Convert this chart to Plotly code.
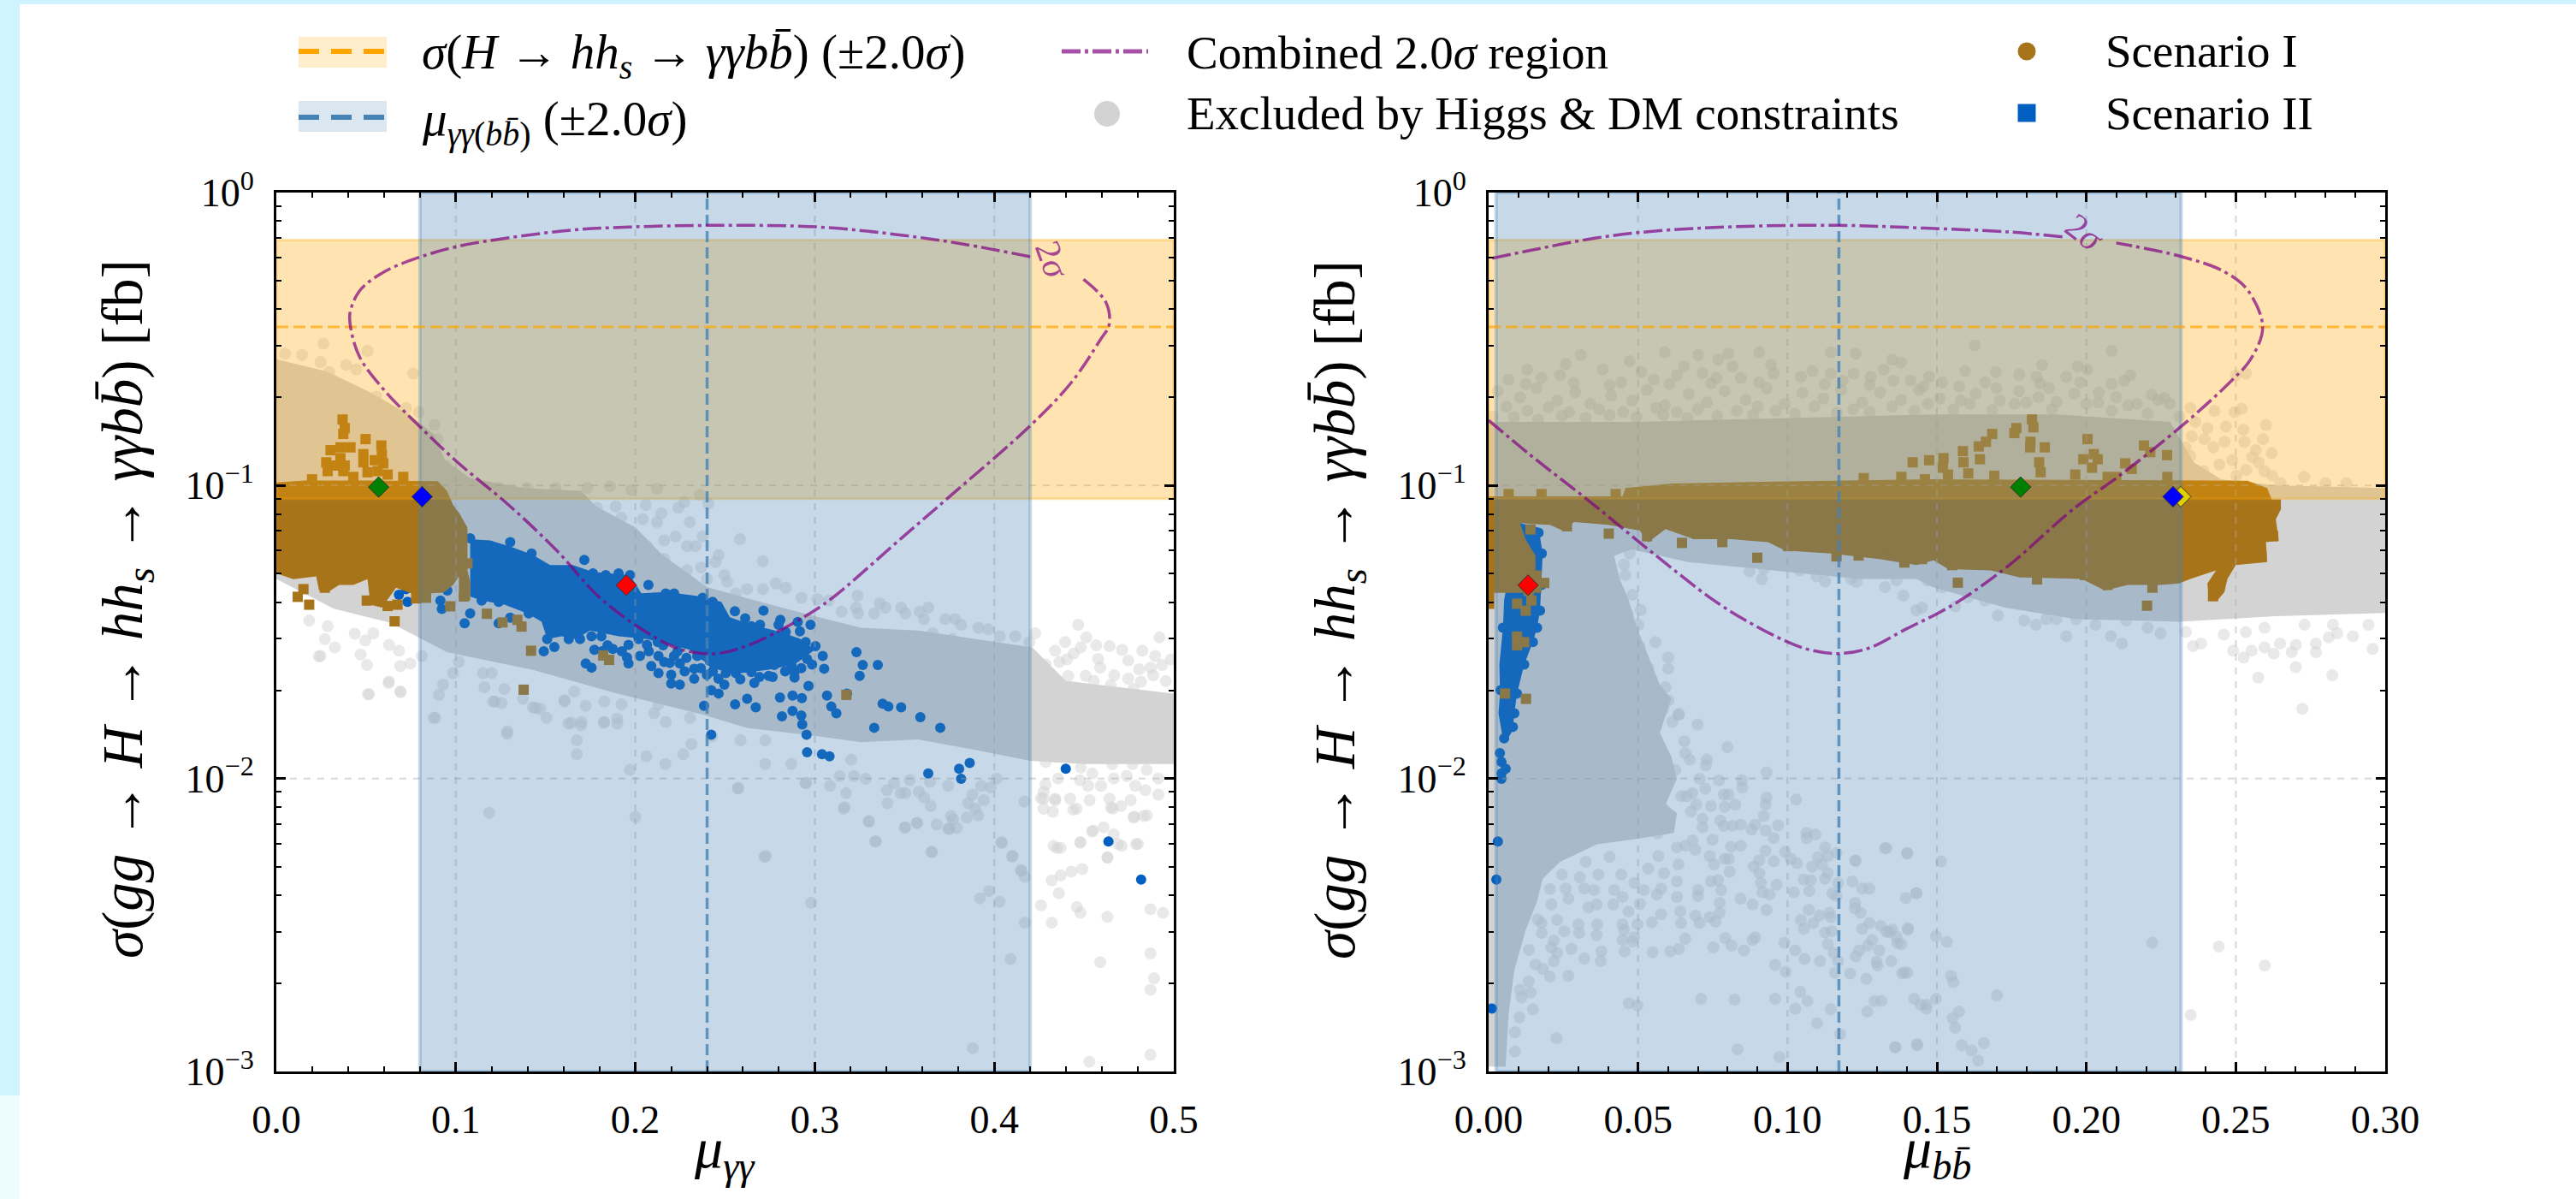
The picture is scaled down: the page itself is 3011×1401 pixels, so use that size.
import plotly.graph_objects as go

W, H = 3011, 1401
X_TICKS_L = [0.0, 0.1, 0.2, 0.3, 0.4, 0.5]
X_TICKS_R = [0.0, 0.05, 0.10, 0.15, 0.20, 0.25, 0.30]
X_MINOR_L = [0.02, 0.04, 0.06, 0.08, 0.12, 0.14, 0.16, 0.18, 0.22, 0.24, 0.26, 0.28, 0.32, 0.34, 0.36, 0.38, 0.42, 0.44, 0.46, 0.48]
X_MINOR_R = [0.01, 0.02, 0.03, 0.04, 0.06, 0.07, 0.08, 0.09, 0.11, 0.12, 0.13, 0.14, 0.16, 0.17, 0.18, 0.19, 0.21, 0.22, 0.23, 0.24, 0.26, 0.27, 0.28, 0.29]
Y_TICKS = [0.001, 0.01, 0.1, 1]
Y_LABELS = ["10<sup>−3</sup>", "10<sup>−2</sup>", "10<sup>−1</sup>", "10<sup>0</sup>"]
Y_MINOR = [0.002, 0.003, 0.004, 0.005, 0.006, 0.007, 0.008, 0.009, 0.02, 0.03, 0.04, 0.05, 0.06, 0.07, 0.08, 0.09, 0.2, 0.3, 0.4, 0.5, 0.6, 0.7, 0.8, 0.9]

SIGMA_LOW, SIGMA_MID, SIGMA_HIGH = 0.0902, 0.348, 0.689
MU_AA_LOW, MU_AA_MID, MU_AA_HIGH = 0.08, 0.24, 0.42
MU_BB_LOW, MU_BB_MID, MU_BB_HIGH = 0.0025, 0.1172, 0.2317

contour_left = [(0.42,0.604),(0.384,0.665),(0.348,0.716),(0.302,0.763),(0.247,0.773),(0.197,0.763),(0.165,0.745),(0.129,0.70),(0.101,0.655),(0.0785,0.598),(0.06,0.536),(0.0465,0.463),(0.041,0.387),(0.0415,0.343),(0.0465,0.274),(0.06,0.212),(0.0785,0.162),(0.101,0.12),(0.129,0.0863),(0.156,0.0602),(0.181,0.041),(0.211,0.0303),(0.227,0.0274),(0.245,0.0267),(0.263,0.0285),(0.293,0.0353),(0.309,0.041),(0.348,0.0659),(0.375,0.0916),(0.42,0.16),(0.443,0.225),(0.459,0.314),(0.464,0.354),(0.462,0.424),(0.448,0.515)]
contour_right_a = [(0.192,0.706),(0.174,0.734),(0.146,0.756),(0.117,0.773),(0.083,0.765),(0.055,0.738),(0.036,0.70),(0.014,0.635),(0.0,0.593)]
contour_right_b = [(0.0,0.167),(0.014,0.127),(0.0334,0.0889),(0.0554,0.0583),(0.0747,0.041),(0.0859,0.0347),(0.0999,0.0293),(0.108,0.0274),(0.117,0.0267),(0.127,0.0278),(0.14,0.0325),(0.15,0.0365),(0.159,0.0413),(0.174,0.0533),(0.196,0.0837),(0.21,0.106),(0.232,0.16),(0.248,0.225),(0.255,0.27),(0.259,0.348),(0.254,0.464),(0.246,0.538),(0.232,0.604),(0.21,0.673)]

grey_core_left = [(0,0.27),(0.028,0.245),(0.051,0.21),(0.074,0.175),(0.0876,0.15),(0.094,0.122),(0.108,0.106),(0.138,0.098),(0.17,0.096),(0.178,0.085),(0.2,0.072),(0.215,0.058),(0.24,0.045),(0.27,0.040),(0.3,0.0358),(0.3258,0.0327),(0.3576,0.032),(0.3894,0.0299),(0.4212,0.028),(0.44,0.0215),(0.5,0.0195),(0.5,0.0112),(0.45,0.0112),(0.42,0.0115),(0.39,0.0125),(0.3576,0.0136),(0.3258,0.0133),(0.2999,0.014),(0.262,0.0149),(0.238,0.0165),(0.19,0.0195),(0.143,0.0235),(0.095,0.027),(0.0636,0.034),(0.032,0.038),(0,0.048)]

grey_left = [(0.1186,0.00764),(0.2,0.0074),(0.272,0.0054),(0.298,0.00377),(0.334,0.0061),(0.365,0.00562),(0.33,0.00716),(0.316,0.0079),(0.35,0.0068),(0.357,0.00705),(0.377,0.00726),(0.375,0.00673),(0.391,0.00748),(0.404,0.00607),(0.41,0.00542),(0.415,0.00484),(0.417,0.00462),(0.392,0.0039),(0.397,0.00413),(0.403,0.0038),(0.417,0.00322),(0.409,0.00242),(0.388,0.0012),(0.453,0.00108),(0.487,0.00114),(0.489,0.00208),(0.487,0.0019),(0.487,0.00253),(0.459,0.00236),(0.432,0.00322),(0.426,0.00369),(0.436,0.00406),(0.446,0.00364),(0.448,0.00348),(0.463,0.00337),(0.487,0.00358),(0.494,0.00348),(0.432,0.00449),(0.437,0.00467),(0.443,0.00481),(0.449,0.00491),(0.463,0.00537),(0.435,0.00579),(0.448,0.00607),(0.455,0.00664),(0.469,0.00597),(0.479,0.00597),(0.478,0.00741),(0.485,0.00748),(0.466,0.0079),(0.444,0.00783),(0.434,0.00843),(0.426,0.00857),
(0.2583,0.0656),(0.271,0.0552),(0.2572,0.00927),(0.2727,0.00544),(0.3336,0.0061),(0.3653,0.00561),(0.3302,0.00713),(0.3505,0.00681),(0.3569,0.00705),(0.3679,0.00696),(0.3743,0.00674),(0.3759,0.00745),(0.3791,0.00678),(0.3847,0.00736),(0.3894,0.00789),(0.3854,0.00824),(0.3942,0.00843),(0.3646,0.00805),(0.361,0.00861),(0.358,0.00901),(0.3405,0.00824),(0.3478,0.00891),(0.3505,0.00891),(0.3402,0.00912),(0.3441,0.00964),(0.3166,0.00798),(0.3174,0.00891),(0.3085,0.00944),(0.2949,0.00964),(0.3218,0.0102),(0.3139,0.0102),(0.3283,0.00998),(0.3529,0.00987),(0.3642,0.00975),(0.3743,0.00944),(0.3878,0.00881),(0.3926,0.00944),(0.398,0.00933),(0.4013,0.00998),(0.4168,0.00834),(0.4041,0.00602),(0.4101,0.00544),(0.4149,0.00486),(0.4275,0.00901),(0.4339,0.00853),(0.4275,0.00853),(0.4422,0.00853),(0.4531,0.00843),(0.4275,0.00788),(0.4326,0.0077),(0.4458,0.00788),(0.4642,0.00853),(0.465,0.00796),(0.4706,0.00805),(0.476,0.00843),(0.4776,0.00736),(0.4832,0.00745),(0.4545,0.00659),(0.4609,0.00681),(0.4665,0.00644),(0.4479,0.00603),(0.433,0.00589),(0.437,0.0058),(0.471,0.00589),(0.48,0.00598),(0.4631,0.00538),
(0.4467,0.0335),(0.4395,0.0292),(0.4513,0.0303),(0.4339,0.0273),(0.4442,0.0267),(0.4482,0.028),(0.4578,0.0256),(0.4642,0.0283),(0.4746,0.0253),(0.4825,0.0273),(0.4896,0.0262),(0.492,0.0303),(0.4807,0.0236),(0.4871,0.0239),(0.4935,0.0244),(0.4746,0.0219),(0.4817,0.0214),(0.451,0.0224),(0.459,0.0239),(0.4412,0.0224),(0.4363,0.025),(0.4323,0.0219),(0.4363,0.0187),(0.425,0.0219),(0.4259,0.0191),(0.4506,0.0187),(0.4626,0.0195),(0.4738,0.0183),(0.4849,0.0187),(0.492,0.0183),(0.4286,0.0114),(0.4339,0.0119),(0.4482,0.0109),(0.4546,0.0104),(0.4477,0.00986),(0.4355,0.01),(0.4285,0.00954),(0.4594,0.00944),(0.4523,0.00944),(0.4666,0.01),(0.4738,0.0102),(0.4786,0.00944),(0.4842,0.00912),(0.4914,0.00881),(0.4849,0.0107),(0.4658,0.0112),(0.477,0.0112),(0.4914,0.01),
(0.4286,0.0245),(0.4555,0.0215),(0.4668,0.0225),(0.4775,0.0202),(0.4955,0.0215),(0.4985,0.0255),(0.4712,0.0275),(0.4568,0.0285),(0.4405,0.0255),(0.4305,0.0205),(0.4885,0.0225),(0.4648,0.0208),(0.4445,0.0205),(0.4222,0.0255),(0.4135,0.0265),
(0.2782,0.0463),(0.2838,0.0448),(0.2926,0.0414),(0.3014,0.0409),(0.3077,0.0405),(0.3149,0.0371),(0.3238,0.0421),(0.323,0.0383),(0.3242,0.0366),(0.3331,0.0366),(0.3362,0.0396),(0.3394,0.0383),(0.3481,0.0383),(0.3505,0.0366),(0.3584,0.0371),(0.3632,0.0383),(0.3608,0.035),(0.3657,0.0313),(0.3727,0.035),(0.3783,0.035),(0.3815,0.0335),(0.3911,0.0327),(0.3966,0.0323),(0.403,0.0306),(0.4117,0.0306),(0.4228,0.0313),(0.4196,0.0292),(0.3767,0.0299),(0.2464,0.0579),(0.2496,0.0495),(0.2512,0.0469),(0.2623,0.0443),(0.2711,0.0443),(0.256,0.0429),
(0.0262,0.305),(0.0508,0.288),(0.0763,0.241),(0.0048,0.282),(0.0143,0.279),(0.0246,0.264),(0.0389,0.258),(0.0445,0.249),(0.0294,0.244),(0.0556,0.201),(0.0723,0.184),(0.0794,0.178),(0.0882,0.161),(0.0898,0.144),(0.0945,0.117),(0.1017,0.102),(0.1239,0.0982),(0.1398,0.0982),(0.1557,0.0982),(0.1732,0.0982),(0.1859,0.0993),(0.1978,0.0964),(0.2121,0.0975),(0.2359,0.0929),(0.2272,0.0877),(0.2058,0.0859),(0.2145,0.0804),(0.224,0.084),(0.2304,0.075),(0.2407,0.0869),(0.2121,0.075),(0.2042,0.0767),(0.1922,0.0777),(0.1787,0.084),(0.1708,0.0869),(0.1891,0.0849),(0.1748,0.0735),(0.1732,0.0785),(0.1795,0.0758),(0.1859,0.0702),(0.1938,0.0671),(0.2002,0.0656),(0.2224,0.0671),(0.2065,0.0621),(0.2161,0.0649),(0.2288,0.0621),(0.2336,0.0621),(0.2375,0.0671),(0.2161,0.0561),(0.2113,0.0548),(0.205,0.0568),(0.2367,0.0525),(0.2447,0.0548),(0.2288,0.0513),(0.2399,0.0479),(0.1875,0.0671),(0.1795,0.0671),(0.1716,0.0718),
(0.0246,0.0262),(0.0326,0.028),(0.027,0.0299),(0.0469,0.0265),(0.0505,0.0244),(0.0628,0.0214),(0.0691,0.0198),(0.0516,0.0194),(0.0691,0.0242),(0.0747,0.0247),(0.0683,0.0273),(0.0628,0.0286),(0.0496,0.0296),(0.0437,0.0312),(0.0183,0.0346),(0.0286,0.0331),(0.054,0.0313),(0.081,0.0262),(0.0929,0.0209),(0.0906,0.0193),(0.0885,0.0161),(0.116,0.0205),(0.1208,0.0183),(0.1255,0.0181),(0.1271,0.0202),(0.1374,0.0187),(0.143,0.0175),(0.147,0.0173),(0.1506,0.0161),(0.1287,0.0145),(0.1605,0.0185),(0.166,0.0198),(0.1724,0.0177),(0.17,0.0156),(0.1644,0.0155),(0.1827,0.0156),(0.1899,0.016),(0.1827,0.0183),(0.1923,0.0179),(0.2105,0.0167),(0.2169,0.0156),(0.2304,0.0161),(0.2129,0.0179),(0.2256,0.0187),(0.1152,0.0229),(0.12,0.0229),(0.0985,0.0229),(0.1017,0.025),
(0.0237,0.0261),(0.0511,0.0194),(0.0693,0.0197),(0.0625,0.0212),(0.0876,0.0161),(0.1218,0.0183),(0.1286,0.0142),(0.1446,0.0174),(0.1606,0.0183),(0.1628,0.0154),(0.1697,0.0152),(0.1674,0.0135),(0.1674,0.0121),(0.1825,0.0155),(0.19,0.0154),(0.197,0.0107),(0.2062,0.0119),(0.2167,0.0112),(0.2267,0.0121),(0.2313,0.0131),(0.2427,0.0139),(0.2573,0.00925),(0.2587,0.0135),(0.2724,0.0135),(0.2724,0.0112),(0.2869,0.0112),(0.2951,0.00966),(0.3203,0.0116)]

blue_core_left = [(0.108,0.0656),(0.1192,0.0649),(0.1319,0.0614),(0.143,0.0579),(0.1525,0.0535),(0.1652,0.0535),(0.1764,0.0507),(0.197,0.0495),(0.2034,0.0429),(0.2177,0.0433),(0.2367,0.0418),(0.2479,0.0401),(0.2527,0.0355),(0.2647,0.0335),(0.2798,0.0318),(0.2917,0.03),(0.3,0.0275),(0.2887,0.0245),(0.2737,0.0235),(0.256,0.0228),(0.2464,0.0235),(0.2367,0.0255),(0.2304,0.0275),(0.2065,0.0299),(0.1907,0.0306),(0.1748,0.032),(0.1668,0.0299),(0.1589,0.0306),(0.1509,0.0299),(0.1478,0.0343),(0.1398,0.0366),(0.1271,0.0392),(0.1144,0.0405),(0.108,0.0418)]

blue_left = [(0.108,0.066),(0.1303,0.0641),(0.1422,0.0586),(0.1716,0.0557),(0.1764,0.0501),(0.1835,0.0495),(0.1907,0.0501),(0.197,0.0495),(0.2073,0.0458),(0.1859,0.0463),(0.2216,0.0428),(0.2375,0.0414),(0.2431,0.0401),(0.2336,0.0396),(0.2169,0.0428),
(0.0723,0.0443),(0.0802,0.0453),(0.0683,0.0424),(0.0731,0.0401),(0.0914,0.0405),(0.0922,0.0379),(0.0953,0.0438),(0.1049,0.0339),(0.108,0.0366),(0.1144,0.0405),(0.1239,0.0401),(0.1406,0.0366),(0.1239,0.0339),(0.1303,0.0354),
(0.1509,0.0299),(0.1549,0.0281),(0.149,0.0272),(0.1629,0.0299),(0.1692,0.0299),(0.1756,0.0306),(0.1811,0.0306),(0.1772,0.0275),(0.1724,0.0247),(0.1756,0.0239),(0.1875,0.0277),(0.1962,0.0286),(0.1954,0.0259),(0.1962,0.0247),(0.2026,0.0262),(0.2018,0.0299),(0.2065,0.0286),(0.2129,0.0262),(0.2216,0.0262),(0.2161,0.025),(0.2089,0.0242),(0.2129,0.0229),(0.2248,0.0247),(0.22,0.0226),(0.22,0.0211),(0.2248,0.0209),(0.2328,0.0237),(0.2328,0.0219),(0.2399,0.0226),(0.2423,0.02),(0.2383,0.0177),(0.2423,0.0141),(0.2463,0.0219),(0.2439,0.0245),
(0.2714,0.0374),(0.2647,0.0331),(0.2695,0.0335),(0.2798,0.0335),(0.2976,0.0335),(0.2917,0.0318),(0.2838,0.0316),(0.2751,0.0306),(0.2663,0.0299),(0.2791,0.0296),(0.2885,0.0289),(0.2949,0.0292),(0.3004,0.0283),(0.2846,0.0273),(0.2727,0.028),(0.2663,0.0273),(0.256,0.028),(0.2496,0.032),(0.2544,0.0306),(0.2464,0.0383),(0.3044,0.0262),(0.2957,0.0256),(0.3052,0.0237),(0.2791,0.0262),(0.2737,0.025),(0.2663,0.025),(0.2623,0.0239),(0.2774,0.0244),(0.271,0.0247),(0.2871,0.0242),(0.2887,0.0231),(0.2887,0.0221),(0.2743,0.0224),(0.2647,0.0231),(0.256,0.0229),(0.2504,0.0229),(0.2496,0.0209),(0.2663,0.0212),(0.2464,0.0195),(0.2965,0.0207),(0.2806,0.0189),(0.2876,0.0192),(0.2928,0.0188),(0.3068,0.0192),(0.2623,0.0187),(0.2556,0.0179),(0.2671,0.0175),(0.2876,0.017),(0.2817,0.0163),(0.2925,0.0164),(0.293,0.0153),(0.2954,0.0141),(0.3092,0.0176),(0.312,0.0167),(0.2957,0.0123),(0.304,0.0121),(0.3082,0.0119),(0.3232,0.027),(0.3267,0.0244),(0.3351,0.0244),(0.325,0.0224),(0.3179,0.0195),(0.3378,0.018),(0.341,0.0176),(0.3481,0.0175),(0.3588,0.0162),(0.3331,0.0149),(0.3699,0.0149),(0.3863,0.0113),(0.3804,0.0108),(0.3632,0.0104),(0.3815,0.00998),(0.4398,0.0108),(0.4636,0.0061),(0.4818,0.00452),
(0.2075,0.0272),(0.2155,0.0285),(0.2235,0.0272),(0.2285,0.0258),(0.2345,0.0262),(0.2415,0.0252),(0.2125,0.0292),(0.2192,0.0248),(0.2275,0.0232),(0.2365,0.0238),(0.2432,0.0232),(0.2535,0.0252),(0.2585,0.0218),(0.2692,0.0222),(0.2765,0.0222),(0.2835,0.0232),(0.2925,0.0238),(0.2985,0.0245),(0.2905,0.0342),(0.2808,0.0348),(0.2612,0.0352),(0.2555,0.0372),(0.2102,0.0308),(0.1845,0.0285),(0.1815,0.0272),(0.1925,0.0272)]

brown_core_left = [(0,0.1025),(0.0159,0.104),(0.05,0.104),(0.07,0.104),(0.09,0.1035),(0.095,0.096),(0.0985,0.0859),(0.102,0.0803),(0.1065,0.0718),(0.1065,0.0513),(0.108,0.0469),(0.108,0.0405),(0.1017,0.0405),(0.1017,0.049),(0.0985,0.0458),(0.0937,0.0433),(0.0858,0.0428),(0.0842,0.04),(0.0763,0.04),(0.0755,0.0428),(0.0667,0.0448),(0.0588,0.0383),(0.0524,0.0392),(0.0508,0.0479),(0.0429,0.0458),(0.035,0.0458),(0.0302,0.0438),(0.0238,0.0438),(0.0222,0.049),(0.0095,0.0479),(0,0.0501)]

brown_left = [(0.0369,0.168),(0.0381,0.157),(0.0373,0.15),(0.0497,0.144),(0.0585,0.137),(0.0357,0.135),(0.0413,0.135),(0.0302,0.132),(0.0588,0.127),(0.0485,0.128),(0.0485,0.12),(0.0548,0.122),(0.0596,0.119),(0.0357,0.124),(0.0278,0.12),(0.0334,0.117),(0.0381,0.117),(0.0286,0.112),(0.0373,0.112),(0.0429,0.107),(0.0199,0.105),(0.0508,0.111),(0.062,0.109),(0.0707,0.107),(0.0564,0.112),
(0.0119,0.0417),(0.0183,0.0392),(0.0151,0.0443),(0.027,0.0448),(0.0659,0.0344),(0.0504,0.0405),(0.062,0.0388),(0.0675,0.0392),(0.0779,0.0412),(0.0834,0.0414),(0.0898,0.0448),(0.0969,0.0387),(0.1045,0.0418),(0.1173,0.0365),(0.126,0.0341),(0.1343,0.0348),(0.1366,0.033),(0.1419,0.0273),(0.1821,0.0263),(0.1854,0.0254),(0.1378,0.0201),(0.3176,0.0193),(0.1065,0.0542),(0.1049,0.0448)]

grey_core_right = [(0,0.165),(0.05,0.165),(0.1,0.17),(0.1489,0.175),(0.19,0.175),(0.228,0.165),(0.236,0.12),(0.245,0.105),(0.2634,0.1),(0.3,0.098),(0.3,0.0367),(0.2634,0.0358),(0.231,0.0343),(0.1966,0.035),(0.1728,0.0383),(0.1489,0.0449),(0.1431,0.048),(0.124,0.048),(0.105,0.0501),(0.0859,0.0525),(0.0668,0.0548),(0.0477,0.0606),(0.042,0.0574),(0.0439,0.048),(0.0468,0.0409),(0.0496,0.0327),(0.0534,0.0262),(0.0573,0.0209),(0.0611,0.0187),(0.0573,0.0143),(0.0611,0.0119),(0.063,0.00998),(0.0592,0.00815),(0.063,0.00762),(0.062,0.00652),(0.0496,0.00622),(0.0363,0.00596),(0.0239,0.0052),(0.0181,0.00455),(0.0162,0.0038),(0.0124,0.00304),(0.0086,0.00222),(0.0067,0.00158),(0.0057,0.00104),(0,0.00104)]

grey_right = [(0.0699,0.0153),(0.0799,0.0128),(0.0637,0.0166),(0.073,0.0116),(0.0727,0.0111),(0.0658,0.0122),(0.0673,0.0116),(0.093,0.0105),(0.0847,0.00986),(0.0849,0.00933),(0.0771,0.00986),(0.0706,0.00998),(0.1029,0.00847),(0.093,0.00861),(0.0927,0.00815),(0.0921,0.00745),(0.0787,0.00881),(0.0802,0.00881),(0.0825,0.00815),(0.0744,0.00805),(0.0725,0.00923),(0.0682,0.00891),(0.0663,0.00871),(0.0695,0.00815),(0.0677,0.00771),(0.079,0.008),(0.0716,0.00728),(0.0716,0.00681),(0.0775,0.00719),(0.0787,0.00689),(0.0816,0.00689),(0.0844,0.00696),(0.0892,0.00696),(0.088,0.0067),(0.0927,0.00665),(0.0969,0.00692),(0.0954,0.00626),(0.0749,0.00618),(0.0692,0.00571),(0.063,0.00582),(0.0658,0.00589),(0.0682,0.00615),(0.0844,0.00589),(0.0811,0.00585),(0.0804,0.00532),(0.0926,0.00566),(0.0992,0.00562),(0.1064,0.00652),(0.1093,0.00644),(0.1064,0.00626),(0.1126,0.00582),(0.1164,0.00557),(0.1331,0.00578),(0.14,0.00557),(0.1228,0.00524),(0.074,0.00544),(0.0754,0.00509),(0.079,0.00532),(0.0635,0.00509),(0.0954,0.00522),(0.0906,0.00526),(0.0887,0.005),(0.1011,0.00532),(0.1032,0.00514),(0.1083,0.005),(0.1102,0.00538),(0.1135,0.00544),(0.1116,0.00509),(0.1135,0.00475),(0.1126,0.00455),(0.1054,0.00452),(0.1078,0.0045),(0.0906,0.00475),(0.0911,0.0044),(0.0964,0.00434),(0.0806,0.00481),(0.0587,0.00475),(0.0534,0.00492),(0.0568,0.00544),(0.0768,0.0045),(0.0744,0.00445),(0.0778,0.00416),(0.0916,0.00409),(0.094,0.00402),(0.1021,0.00409),(0.1073,0.00413),(0.115,0.00406),(0.1169,0.0044),(0.1217,0.00445),(0.125,0.00421),(0.1274,0.00421),(0.1431,0.00406),(0.1396,0.00391),(0.1164,0.00397),(0.0701,0.00416),(0.0701,0.00397),(0.063,0.00394),(0.063,0.00445),(0.0577,0.00421),(0.0563,0.00402),(0.052,0.00416),(0.0487,0.0044),(0.0444,0.0047),(0.0367,0.0047),(0.0305,0.0046),(0.042,0.00416),(0.0448,0.00394),(0.0506,0.00373),(0.0417,0.00372),(0.0468,0.00352),(0.0361,0.00372),(0.0334,0.00363),(0.0267,0.00389),(0.0353,0.00416),(0.032,0.00421),(0.0258,0.00421),(0.021,0.00372),(0.0843,0.00389),(0.0883,0.00372),(0.0773,0.00376),(0.093,0.00356),(0.0641,0.00352),(0.0577,0.00344),(0.0546,0.00323),(0.0498,0.00318),(0.0644,0.00321),(0.0692,0.0034),(0.0706,0.00321),(0.074,0.00336),(0.0759,0.00325),(0.0773,0.00348),(0.1071,0.00356),(0.1045,0.00329),(0.1055,0.00307),(0.1086,0.00321),(0.1107,0.0034),(0.114,0.00348),(0.1145,0.00336),(0.1226,0.00376),(0.1226,0.0036),(0.1245,0.00348),(0.1274,0.00321),(0.125,0.00307),(0.1312,0.00314),(0.1331,0.003),(0.135,0.00305),(0.1403,0.00305),(0.1365,0.00288),(0.1381,0.00272),(0.1283,0.00281),(0.1126,0.00298),(0.1148,0.00301),(0.1135,0.00272),(0.1155,0.00254),(0.1169,0.00238),(0.124,0.00259),(0.1228,0.00247),(0.1269,0.00269),(0.1307,0.00259),(0.1298,0.00237),(0.1301,0.0023),(0.1347,0.00238),(0.1384,0.00216),(0.1401,0.00217),(0.1264,0.00207),(0.121,0.00216),(0.1159,0.00217),(0.1109,0.00238),(0.1057,0.00242),(0.1026,0.00259),(0.099,0.00275),(0.0959,0.00231),(0.0994,0.00219),(0.0854,0.00259),(0.0883,0.00281),(0.0892,0.00287),(0.0792,0.00285),(0.0813,0.00269),(0.0752,0.00265),(0.0658,0.00284),(0.0637,0.00262),(0.0608,0.00257),(0.0549,0.00255),(0.0455,0.00257),(0.0448,0.00281),(0.0487,0.00287),(0.0482,0.00278),(0.0453,0.00304),(0.0448,0.00318),(0.0377,0.00257),(0.0375,0.00238),(0.032,0.00243),(0.0277,0.00262),(0.0229,0.00254),(0.0218,0.00238),(0.021,0.00265),(0.0218,0.0028),(0.0361,0.00292),(0.0363,0.00318),(0.0303,0.00297),(0.0301,0.00318),(0.0253,0.00301),(0.0178,0.00297),(0.0177,0.00321),(0.0229,0.00329),(0.0205,0.00211),(0.0267,0.00212),(0.0181,0.00224),(0.0157,0.00232),(0.0134,0.00203),(0.0141,0.00186),(0.011,0.00179),(0.0148,0.00163),(0.0103,0.00153),(0.0088,0.00136),(0.0227,0.0013),(0.0088,0.00117),(0.0469,0.00171),(0.0498,0.00168),(0.0711,0.00177),(0.0823,0.00176),(0.0959,0.00177),(0.1043,0.00187),(0.1067,0.00174),(0.1026,0.00164),(0.1145,0.00163),(0.1099,0.00146),(0.1176,0.00134),(0.0833,0.00119),(0.0973,0.00112),(0.1362,0.00121),(0.1434,0.00123),(0.1291,0.00174),(0.1314,0.00174),(0.1267,0.0016),(0.1424,0.00177),(0.1446,0.00169),(0.1465,0.00164),
(0.1701,0.00182),(0.1555,0.00202),(0.1547,0.00212),(0.1497,0.00177),(0.1464,0.00169),(0.1574,0.0016),(0.1552,0.00152),(0.1561,0.00141),(0.1434,0.00124),(0.1359,0.00121),(0.1583,0.00123),(0.1657,0.00125),(0.1616,0.00118),(0.1638,0.00109),(0.1497,0.0029),(0.1533,0.00277),(0.139,0.00218),(0.1368,0.00274),(0.134,0.00299),(0.1403,0.00308),(0.1514,0.00521),(0.1431,0.00406),(0.1326,0.00579),(0.1401,0.00555),(0.1227,0.00525),(0.222,0.00275),(0.2443,0.00267),(0.2597,0.0023),(0.2349,0.00156),
(0.2723,0.0173),(0.2575,0.0221),(0.2823,0.0225),(0.2701,0.024),(0.2526,0.0259),(0.2491,0.0273),(0.2553,0.0273),(0.2596,0.028),(0.2627,0.0267),(0.2648,0.0289),(0.2701,0.0286),(0.2687,0.027),(0.2768,0.0289),(0.2768,0.027),(0.2811,0.0303),(0.2839,0.0313),(0.2892,0.0306),(0.2958,0.0277),(0.2944,0.0335),(0.2825,0.0335),(0.273,0.0335),(0.2596,0.0327),(0.2534,0.0316),(0.246,0.031),(0.2357,0.0283),(0.2384,0.0289),(0.2333,0.0316),(0.2248,0.0313),(0.2205,0.0327),(0.2119,0.0289),(0.2082,0.0306),(0.2031,0.0335),(0.1933,0.0306),(0.1831,0.0335),(0.1792,0.0346),(0.1704,0.036),(0.1661,0.0405),(0.1604,0.0415),(0.1561,0.0387),(0.1518,0.0449),(0.1866,0.035),(0.19,0.035),(0.1966,0.035),(0.2133,0.0346),
(0.0472,0.0586),(0.0677,0.0574),(0.0725,0.06),(0.0792,0.0561),(0.0821,0.0574),(0.0873,0.0509),(0.0914,0.0479),(0.0921,0.0519),(0.0973,0.0548),(0.104,0.0513),(0.1097,0.049),(0.1126,0.0471),(0.1212,0.048),(0.1231,0.0469),(0.1293,0.0501),(0.1326,0.045),(0.1388,0.0421),(0.1431,0.0375),(0.145,0.0383),(0.1365,0.0474),(0.1469,0.0474),
(0.0453,0.0538),(0.0458,0.0495),(0.0482,0.0424),(0.0509,0.0376),(0.0501,0.0335),(0.0558,0.0292),(0.0601,0.0259),(0.0601,0.0237),(0.0592,0.0205),(0.0601,0.0185),(0.0635,0.0165),
(0.0308,0.279),(0.0589,0.285),(0.0701,0.279),(0.0768,0.269),(0.0802,0.282),(0.0906,0.285),(0.1145,0.285),(0.1228,0.282),(0.135,0.269),(0.1379,0.263),(0.1322,0.249),(0.1474,0.235),(0.0129,0.249),(0.0258,0.26),(0.0382,0.249),(0.0472,0.266),(0.0654,0.255),(0.063,0.238),(0.0716,0.242),(0.0816,0.255),(0.0945,0.258),(0.1083,0.246),(0.1145,0.241),(0.1221,0.241),(0.1279,0.235),(0.1045,0.235),(0.0067,0.23),(0.0177,0.233),(0.0239,0.238),(0.0444,0.225),(0.0511,0.244),(0.0553,0.23),(0.0763,0.233),(0.0844,0.233),(0.0954,0.241),(0.1355,0.228),(0.1412,0.228),
(0.2085,0.288),(0.1627,0.301),(0.1594,0.246),(0.1697,0.244),(0.1775,0.239),(0.1834,0.235),(0.1852,0.258),(0.1971,0.255),(0.2004,0.249),(0.1933,0.235),(0.198,0.225),(0.2147,0.238),(0.2126,0.228),(0.1518,0.225),(0.1575,0.218),(0.1661,0.225),(0.1699,0.215),(0.1775,0.21),(0.1875,0.215),(0.2042,0.208),(0.2219,0.204),(0.2262,0.199),(0.2601,0.161),(0.2534,0.241),(0.25,0.238),(0.2348,0.184),(0.2429,0.18),(0.2496,0.178),(0.252,0.183),(0.2467,0.159),(0.2353,0.147),(0.2405,0.157),(0.2591,0.144),(0.2529,0.141),(0.262,0.129),(0.2462,0.141),(0.2395,0.144),(0.2348,0.126),(0.2567,0.132),(0.2577,0.12),(0.2596,0.112),(0.2729,0.107),(0.265,0.102),(0.28,0.102),(0.287,0.102),
(0.2365,0.165),(0.2425,0.135),(0.2488,0.122),(0.2535,0.113),(0.2445,0.118),(0.2392,0.112),(0.2525,0.155),(0.2312,0.172),(0.2332,0.135),(0.2502,0.108),(0.2415,0.105),(0.2555,0.125),(0.2622,0.108),
(0.003,0.21),(0.0105,0.2),(0.016,0.215),(0.023,0.195),(0.029,0.208),(0.034,0.19),(0.041,0.203),(0.048,0.195),(0.053,0.212),(0.059,0.188),(0.067,0.205),(0.073,0.192),(0.079,0.21),(0.086,0.196),(0.093,0.215),(0.099,0.19),(0.105,0.207),(0.112,0.198),(0.118,0.212),(0.125,0.192),(0.131,0.208),(0.138,0.196),(0.144,0.212),(0.151,0.198),(0.158,0.195),(0.163,0.206),(0.171,0.195),(0.176,0.19),(0.184,0.2),(0.19,0.193),(0.196,0.206),(0.204,0.192),(0.21,0.2),(0.217,0.19),(0.224,0.196),
(0.006,0.186),(0.013,0.18),(0.02,0.185),(0.027,0.178),(0.037,0.182),(0.045,0.178),(0.056,0.184),(0.063,0.178),(0.07,0.182),(0.083,0.18),(0.09,0.186),(0.096,0.18),(0.109,0.186),(0.122,0.182),(0.135,0.186),(0.147,0.19),(0.161,0.19),(0.18,0.192),(0.2,0.19),(0.214,0.188),(0.228,0.19),
(0.0015,0.172),(0.0085,0.171),(0.0165,0.168),(0.0245,0.173),(0.0325,0.17),(0.0405,0.174),(0.0495,0.171),(0.0585,0.174),(0.0665,0.17),(0.0765,0.173),(0.0885,0.174),(0.1025,0.176),(0.1165,0.177),(0.1275,0.178),(0.1425,0.18),(0.1555,0.182),(0.1685,0.181),(0.1885,0.182),(0.2085,0.18),(0.2205,0.176),(0.0125,0.222),(0.0285,0.224),(0.0405,0.22),(0.0605,0.222),(0.0745,0.223),(0.0905,0.225),(0.1125,0.222),(0.1275,0.22),(0.1455,0.218),(0.1185,0.228),(0.2085,0.222),(0.1845,0.223),
(0.0285,0.0058),(0.0345,0.0063),(0.0425,0.0066),(0.0505,0.0068),(0.0565,0.0065),(0.0405,0.0054),(0.0325,0.0052),(0.0245,0.0047),(0.0205,0.0042),(0.0165,0.0033),(0.0135,0.0026),(0.0105,0.0019),(0.0585,0.0079),(0.0645,0.0087),(0.0625,0.0107),(0.0655,0.0134),(0.0615,0.0156),(0.0585,0.0173),(0.0555,0.0198),(0.0535,0.0238),(0.0505,0.0282),(0.0465,0.0365)]

blue_core_right = [(0.0105,0.0745),(0.0167,0.0718),(0.0181,0.0586),(0.0177,0.0458),(0.0172,0.0374),(0.0162,0.0327),(0.0148,0.0292),(0.0119,0.0245),(0.0095,0.0195),(0.0086,0.0167),(0.0081,0.0146),(0.0062,0.0136),(0.0048,0.0136),(0.0033,0.0167),(0.0038,0.0195),(0.0036,0.0245),(0.0048,0.0327),(0.0052,0.0409)]

blue_right = [(0.0167,0.069),(0.0178,0.0586),(0.0177,0.0458),(0.0172,0.0374),(0.0162,0.0327),(0.0148,0.0292),(0.0119,0.0245),(0.0095,0.0195),(0.0086,0.0167),(0.0048,0.0327),(0.004,0.02),(0.0038,0.0122),(0.0043,0.0114),(0.0057,0.0108),(0.0043,0.0104),(0.0043,0.00998),(0.0031,0.0061),(0.0026,0.00452),(0.0011,0.00164),(0.0081,0.015),(0.0052,0.0137)]

brown_core_right = [(0,0.0918),(0.0448,0.0918),(0.0458,0.098),(0.0611,0.1016),(0.1002,0.1033),(0.1489,0.105),(0.2539,0.1039),(0.2605,0.098),(0.262,0.0897),(0.2651,0.0897),(0.2651,0.083),(0.2634,0.0767),(0.2644,0.0649),(0.2601,0.0641),(0.2605,0.0548),(0.25,0.0535),(0.2472,0.048),(0.2462,0.0433),(0.2438,0.0405),(0.241,0.0405),(0.2405,0.0463),(0.2434,0.0513),(0.2348,0.048),(0.231,0.0463),(0.2243,0.0458),(0.2138,0.0458),(0.2062,0.0438),(0.1985,0.048),(0.1775,0.0486),(0.168,0.0513),(0.1537,0.0519),(0.1489,0.0555),(0.1431,0.0535),(0.1307,0.0561),(0.1145,0.0586),(0.0992,0.06),(0.0935,0.0641),(0.0811,0.0656),(0.0687,0.0656),(0.0592,0.071),(0.0534,0.0641),(0.0506,0.0702),(0.04,0.0734),(0.0286,0.075),(0.0248,0.0702),(0.0205,0.0734),(0.0181,0.0735),(0.0105,0.0745),(0.0124,0.0655),(0.0157,0.0575),(0.0157,0.0513),(0.0177,0.0513),(0.0177,0.043),(0.0115,0.043),(0.0019,0.043),(0.0019,0.0379),(0,0.0379)]

brown_right = [(0.0402,0.0685),(0.053,0.0671),(0.0647,0.0637),(0.0699,0.0683),(0.0782,0.0641),(0.0899,0.0567),(0.0949,0.0671),(0.1002,0.0621),(0.1164,0.0573),(0.1238,0.0577),(0.1312,0.0586),(0.1391,0.0546),(0.1355,0.06),(0.145,0.0561),(0.0262,0.0726),(0.014,0.0708),(0.157,0.0466),(0.1835,0.0478),(0.1794,0.0507),(0.2071,0.0458),(0.2104,0.048),(0.2154,0.0486),(0.2221,0.0448),(0.2203,0.0389),(0.2424,0.0419),(0.2625,0.0671),(0.2586,0.0573),(0.1551,0.0535),(0.1995,0.0495),(0.2257,0.048),(0.1651,0.0542),
(0.1419,0.12),(0.1474,0.122),(0.1255,0.106),(0.1381,0.107),(0.146,0.105),(0.0067,0.0935),(0.0177,0.0935),(0.0425,0.0935),
(0.1818,0.168),(0.1823,0.158),(0.1766,0.157),(0.1759,0.151),(0.1685,0.15),(0.1664,0.141),(0.164,0.136),(0.1644,0.123),(0.1587,0.131),(0.1813,0.141),(0.1812,0.135),(0.1861,0.135),(0.2004,0.144),(0.199,0.123),(0.2025,0.128),(0.2038,0.123),(0.2019,0.115),(0.1842,0.12),(0.1847,0.111),(0.1522,0.124),(0.1589,0.12),(0.152,0.115),(0.1537,0.109),(0.1605,0.11),(0.1692,0.108),(0.2193,0.137),(0.2214,0.13),(0.227,0.127),(0.213,0.119),(0.2152,0.114),(0.2071,0.107),(0.2271,0.107),(0.1963,0.109),(0.21,0.107),
(0.0086,0.0455),(0.0134,0.0437),(0.0143,0.0405),(0.0095,0.0395),(0.0124,0.0374),(0.0095,0.0305),(0.0119,0.0292),(0.0095,0.0285),(0.0055,0.0195),(0.0125,0.0187),(0.0186,0.0465)]

markers_left = {"green": (0.057, 0.0988), "blue": (0.0812, 0.0916), "red": (0.195, 0.0457)}
markers_right = {"yellow": (0.2316, 0.0916), "green": (0.178, 0.0988), "blue": (0.229, 0.0916), "red": (0.0132, 0.0457)}
marker_colors = {"green": "#008000", "blue": "#0000ff", "red": "#ff0000", "yellow": "#e0d000"}

GREY, BROWN, BLUE = "#d3d3d3", "#a8741a", "#005fc0"
SERIF = "Liberation Serif"
PANELS = [
    dict(x="x", y="y", xmax=0.5, low=MU_AA_LOW, mid=MU_AA_MID, high=MU_AA_HIGH, grey=grey_left, gcore=grey_core_left,
         blue=blue_left, bcore=blue_core_left, brown=brown_left, brcore=brown_core_left, curves=[contour_left],
         marks=markers_left, gridx=X_TICKS_L[1:-1]),
    dict(x="x2", y="y2", xmax=0.3, low=MU_BB_LOW, mid=MU_BB_MID, high=MU_BB_HIGH, grey=grey_right, gcore=grey_core_right,
         blue=blue_right, bcore=blue_core_right, brown=brown_right, brcore=brown_core_right, curves=[contour_right_a, contour_right_b],
         marks=markers_right, gridx=X_TICKS_R[1:-1]),
]

fig = go.Figure()


def add(p, xs, ys, **kw):
    fig.add_trace(go.Scatter(x=list(xs), y=list(ys), xaxis=p["x"], yaxis=p["y"], showlegend=False, hoverinfo="skip", **kw))


def poly(p, pts, color):
    xs, ys = zip(*pts)
    add(p, xs + xs[:1], ys + ys[:1], mode="lines", fill="toself", fillcolor=color, line=dict(width=0, color=color))


for p in PANELS:
    poly(p, p["gcore"], GREY)
    xs, ys = zip(*p["grey"])
    add(p, xs, ys, mode="markers", marker=dict(size=14, color=GREY, opacity=0.5, line=dict(width=0)))
    poly(p, p["bcore"], BLUE)
    xs, ys = zip(*p["blue"])
    add(p, xs, ys, mode="markers", marker=dict(size=12, color=BLUE, line=dict(width=0)))
    poly(p, p["brcore"], BROWN)
    xs, ys = zip(*p["brown"])
    add(p, xs, ys, mode="markers", marker=dict(size=12, color=BROWN, symbol="square", line=dict(width=0)))
    gridc = "rgba(170,170,170,0.45)"
    for g in p["gridx"]:
        add(p, [g, g], [0.001, 1], mode="lines", line=dict(color=gridc, width=2, dash="8px,8px"))
    for g in [0.1, 0.01]:
        add(p, [0, p["xmax"]], [g, g], mode="lines", line=dict(color=gridc, width=2, dash="8px,8px"))
    add(p, [0, p["xmax"], p["xmax"], 0, 0], [SIGMA_LOW, SIGMA_LOW, SIGMA_HIGH, SIGMA_HIGH, SIGMA_LOW], mode="lines",
        fill="toself", fillcolor="rgba(255,165,0,0.3)", line=dict(color="rgba(255,165,0,0.3)", width=3))
    add(p, [p["low"], p["high"], p["high"], p["low"], p["low"]], [0.001, 0.001, 1, 1, 0.001], mode="lines",
        fill="toself", fillcolor="rgba(70,130,180,0.3)", line=dict(color="rgba(70,130,180,0.3)", width=4))
    add(p, [0, p["xmax"]], [SIGMA_MID, SIGMA_MID], mode="lines", line=dict(color="rgba(255,165,0,0.7)", width=3, dash="14px,6px"))
    add(p, [p["mid"], p["mid"]], [0.001, 1], mode="lines", line=dict(color="rgba(70,130,180,0.8)", width=3.5, dash="13px,6px"))
    for c in p["curves"]:
        xs, ys = zip(*c)
        add(p, xs, ys, mode="lines", line=dict(color="rgba(128,0,128,0.7)", width=3.5, dash="22px,5px,4px,5px", shape="spline", smoothing=1.0))
    for name, (mx, my) in p["marks"].items():
        add(p, [mx], [my], mode="markers", marker=dict(size=18.5, symbol="diamond", color=marker_colors[name], line=dict(width=1, color="#333333")))


def fx(px):
    return px / W


def fy(py):
    return 1 - py / H


def text(px, py, s, size=55, color="black", angle=0, anchor="left"):
    fig.add_annotation(xref="paper", yref="paper", x=fx(px), y=fy(py), text=s, showarrow=False, xanchor=anchor, yanchor="middle",
                       textangle=angle, font=dict(family=SERIF, size=size, color=color))


def rect(x0, y0, x1, y1, color, layer="below"):
    fig.add_shape(type="rect", xref="paper", yref="paper", x0=fx(x0), x1=fx(x1), y0=fy(y0), y1=fy(y1), fillcolor=color, line=dict(width=0), layer=layer)


def hline(x0, x1, py, color, width, dash):
    fig.add_shape(type="line", xref="paper", yref="paper", x0=fx(x0), x1=fx(x1), y0=fy(py), y1=fy(py), line=dict(color=color, width=width, dash=dash))


rect(0, 0, 23, 1280, "#cff3ff")
rect(0, 1280, 23, 1401, "#ecfcff")
rect(0, 0, 3011, 5, "#cff3ff")

rect(349, 43, 452, 79, "rgba(255,165,0,0.2)")
hline(349, 452, 60, "#ffa500", 6, "24px,14px")
rect(349, 118, 452, 154, "rgba(70,130,180,0.2)")
hline(349, 452, 137, "#4682b4", 6, "24px,14px")
hline(1241, 1342, 60, "#a850a8", 5, "22px,5px,4px,5px")
fig.add_shape(type="circle", xref="paper", yref="paper", x0=fx(1279), x1=fx(1309), y0=fy(118), y1=fy(148), fillcolor="#d3d3d3", line=dict(width=0))
fig.add_shape(type="circle", xref="paper", yref="paper", x0=fx(2358.5), x1=fx(2379.5), y0=fy(49.5), y1=fy(70.5), fillcolor=BROWN, line=dict(width=0))
rect(2358.5, 121.5, 2379.5, 142.5, BLUE, layer="above")

SIG_TXT = "<i>σ</i>(<i>H</i> → <i>hh<sub>s</sub></i> → <i>γγbb̄</i>) (±2.0<i>σ</i>)"
MU_TXT = "<i>μ</i><sub><i>γγ</i>(<i>bb̄</i>)</sub> (±2.0<i>σ</i>)"
YTITLE = "<i>σ</i>(<i>gg</i> → <i>H</i> → <i>hh<sub>s</sub></i> → <i>γγbb̄</i>) [fb]"
text(491, 65, SIG_TXT, size=57)
text(491, 143, MU_TXT, size=57)
text(1385, 62, "Combined 2.0<i>σ</i> region")
text(1385, 133, "Excluded by Higgs &amp; DM constraints")
text(2459, 60, "Scenario I")
text(2459, 132, "Scenario II")
text(148, 712, YTITLE, size=67, angle=-90, anchor="center")
text(1565, 712, YTITLE, size=67, angle=-90, anchor="center")
text(847, 1346, "<i>μ</i><sub><i>γγ</i></sub>", size=66, anchor="center")
text(2264, 1346, "<i>μ</i><sub><i>bb̄</i></sub>", size=66, anchor="center")
text(1230, 304, "2<i>σ</i>", size=42, color="rgba(128,0,128,0.7)", angle=70, anchor="center")
text(2437, 272, "2<i>σ</i>", size=42, color="rgba(128,0,128,0.7)", angle=38, anchor="center")


def xaxis(dom, rng, ticks, minor, labels):
    return dict(domain=dom, range=rng, tickmode="array", tickvals=ticks, ticktext=labels, ticks="inside", ticklen=11, tickwidth=2.5, tickcolor="black",
                showline=True, linecolor="black", linewidth=3, mirror="ticks", showgrid=False, zeroline=False, ticklabelstandoff=14,
                tickfont=dict(family=SERIF, size=46, color="black"),
                minor=dict(tickmode="array", tickvals=minor, ticks="inside", ticklen=6, tickwidth=1.5, tickcolor="black", showgrid=False))


def yaxis(anchor):
    return dict(domain=[1 - 1252 / H, 1 - 225 / H], type="log", range=[-3, 0], anchor=anchor, tickmode="array", tickvals=Y_TICKS, ticktext=Y_LABELS,
                ticks="inside", ticklen=11, tickwidth=2.5, tickcolor="black", showline=True, linecolor="black", linewidth=3, mirror="ticks",
                showgrid=False, zeroline=False, ticklabelstandoff=14, tickfont=dict(family=SERIF, size=46, color="black"),
                minor=dict(tickmode="array", tickvals=Y_MINOR, ticks="inside", ticklen=6, tickwidth=1.5, tickcolor="black", showgrid=False))


fig.update_layout(
    width=W, height=H, autosize=False, margin=dict(l=0, r=0, t=0, b=0, pad=0, autoexpand=False), paper_bgcolor="white", plot_bgcolor="white", showlegend=False,
    xaxis=xaxis([323 / W, 1372 / W], [0, 0.5], X_TICKS_L, X_MINOR_L, ["0.0", "0.1", "0.2", "0.3", "0.4", "0.5"]),
    yaxis=yaxis("x"),
    xaxis2=dict(xaxis([1740 / W, 2788 / W], [0, 0.3], X_TICKS_R, X_MINOR_R, ["0.00", "0.05", "0.10", "0.15", "0.20", "0.25", "0.30"]), anchor="y2"),
    yaxis2=yaxis("x2"),
)
fig.write_html("out.html", config=dict(displayModeBar=False), post_script="document.body.style.margin='0';document.body.style.overflow='hidden';")
